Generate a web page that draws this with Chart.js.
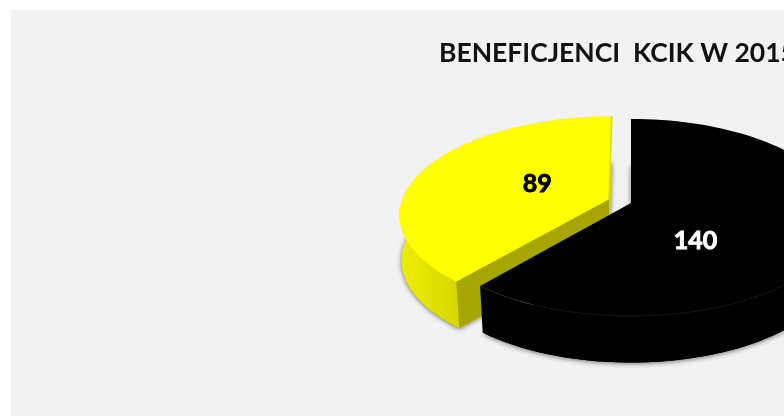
<!DOCTYPE html>
<html><head><meta charset="utf-8">
<style>
html,body{margin:0;padding:0;background:#fff;overflow:hidden;width:784px;height:416px}
#wrap{position:absolute;left:11px;top:10px;width:812px;height:406px;background:#f2f2f2}
</style>
<script src="https://cdn.jsdelivr.net/npm/chart.js@4"></script>
</head><body><div id="wrap"><canvas id="c" width="812" height="406"></canvas></div>
<script>
const categories = ['Kobiety', 'Mężczyźni'];
const values = [140, 89];
const titleText = 'BENEFICJENCI  KCIK W 2015';
const topColors = ['#000000', '#ffff00'];
const sideColors = [['#000000', '#000000'], ['#eeee00', '#d8d800']];
const faceColors = ['#000000', '#a6a600'];
const labelColors = ['#ffffff', '#000000'];
const labelRadius = [0.477, 0.395];
const labelTurn = [32, 5];

const VIEW = {cy: 193, A: 96.4, B: 208, k: 0.147, depth: 46.5};

function project(cx, u, v, bottom) {
  const s = 1 / (1 - VIEW.k * v);
  let x = VIEW.B * u * s, y = VIEW.A * v * s;
  if (bottom) { x *= 0.992 - 0.012 * v; y += VIEW.depth; }
  return [cx + x, VIEW.cy + y];
}
function arcPoints(el, shift, bottom) {
  const pts = [], n = 90, mid = (el.startAngle + el.endAngle) / 2;
  const du = shift * Math.cos(mid), dv = shift * Math.sin(mid);
  for (let i = 0; i <= n; i++) {
    const a = el.startAngle + (el.endAngle - el.startAngle) * i / n;
    pts.push(project(el.x, Math.cos(a) + du, Math.sin(a) + dv, bottom));
  }
  return {pts, apex: project(el.x, du, dv, bottom)};
}
function poly(ctx, pts) {
  ctx.beginPath();
  pts.forEach((p, i) => i ? ctx.lineTo(p[0], p[1]) : ctx.moveTo(p[0], p[1]));
  ctx.closePath();
}
const pie3d = {
  id: 'pie3d',
  beforeDatasetDraw(chart) {
    const ctx = chart.ctx, meta = chart.getDatasetMeta(0);
    [1, 0].forEach(i => {
      const el = meta.data[i];
      const shift = (el.options.offset || 0) / el.outerRadius;
      const top = arcPoints(el, shift, false), bot = arcPoints(el, shift, true);
      ctx.save();
      ctx.shadowColor = 'rgba(0,0,0,0.55)';
      ctx.shadowBlur = 5;
      ctx.shadowOffsetY = 1;
      ctx.fillStyle = sideColors[i][1];
      poly(ctx, bot.pts.concat([bot.apex]));
      ctx.fill();
      ctx.restore();
      // curved outer wall (only the part facing the viewer)
      const frontT = [], frontB = [];
      top.pts.forEach((p, j) => {
        const a = el.startAngle + (el.endAngle - el.startAngle) * j / 90;
        if (Math.sin(a) > -0.12) { frontT.push(p); frontB.push(bot.pts[j]); }
      });
      const xs = frontT.map(p => p[0]);
      const g = ctx.createLinearGradient(Math.min(...xs), 0, Math.min(Math.max(...xs), Math.min(...xs) + 70), 0);
      g.addColorStop(0, sideColors[i][0]);
      g.addColorStop(1, sideColors[i][1]);
      ctx.fillStyle = g;
      poly(ctx, frontT.concat(frontB.reverse()));
      ctx.fill();
      // cut face
      ctx.fillStyle = faceColors[i];
      poly(ctx, [top.apex, top.pts[0], bot.pts[0], bot.apex]);
      ctx.fill();
      // top surface
      ctx.fillStyle = el.options.backgroundColor;
      poly(ctx, top.pts.concat([top.apex]));
      ctx.fill();
      if (i === 1) {
        ctx.strokeStyle = '#dada00'; ctx.lineWidth = 1.5;
        ctx.beginPath();
        const last = top.pts[top.pts.length - 1];
        ctx.moveTo(last[0], last[1]); ctx.lineTo(top.apex[0], top.apex[1]);
        ctx.stroke();
      } else {
        ctx.strokeStyle = 'rgba(70,70,70,0.3)'; ctx.lineWidth = 1;
        ctx.beginPath();
        top.pts.forEach((p, j) => {
          const a = el.startAngle + (el.endAngle - el.startAngle) * j / 90;
          if (Math.sin(a) > 0.45) ctx.lineTo(p[0], p[1]);
        });
        ctx.stroke();
      }
    });
    // value labels
    ctx.save();
    ctx.font = 'bold 25px Lato';
    ctx.textAlign = 'center';
    ctx.textBaseline = 'middle';
    meta.data.forEach((el, i) => {
      const shift = (el.options.offset || 0) / el.outerRadius;
      const mid = (el.startAngle + el.endAngle) / 2;
      const a = mid + labelTurn[i] * Math.PI / 180;
      const p = project(el.x, labelRadius[i] * Math.cos(a) + shift * Math.cos(mid), labelRadius[i] * Math.sin(a) + shift * Math.sin(mid), false);
      ctx.fillStyle = labelColors[i];
      ctx.strokeStyle = labelColors[i];
      ctx.lineWidth = 0.9;
      ctx.fillText(String(values[i]), p[0], p[1]);
      ctx.strokeText(String(values[i]), p[0], p[1]);
    });
    ctx.restore();
    return false;
  }
};
new Chart(document.getElementById('c'), {
  type: 'pie',
  data: {
    labels: categories,
    datasets: [{data: values, backgroundColor: topColors, borderWidth: 0, offset: [0, 18], hoverOffset: 0}]
  },
  options: {
    responsive: false,
    animation: false,
    layout: {padding: {left: 428}},
    plugins: {
      legend: {display: false},
      tooltip: {enabled: false},
      title: {display: true, text: titleText, align: 'start', color: '#111111',
        font: {family: 'Lato', size: 26.5, weight: 'bold'}, padding: {top: 28, bottom: 10}}
    }
  },
  plugins: [pie3d]
});
</script></body></html>
